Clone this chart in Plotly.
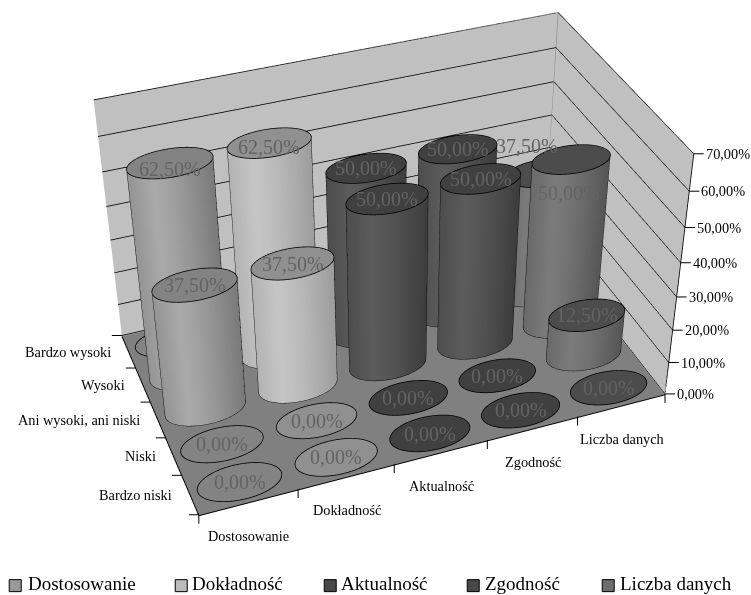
import numpy as np
import plotly.graph_objects as go

SERIES = ["Dostosowanie", "Dokładność", "Aktualność", "Zgodność", "Liczba danych"]
LEVELS = ["Bardzo niski", "Niski", "Ani wysoki, ani niski", "Wysoki", "Bardzo wysoki"]
DOSTOSOWANIE = [0.0, 0.0, 37.5, 62.5, 0.0]
DOKLADNOSC = [0.0, 0.0, 37.5, 62.5, 0.0]
AKTUALNOSC = [0.0, 0.0, 50.0, 50.0, 0.0]
ZGODNOSC = [0.0, 0.0, 50.0, 50.0, 0.0]
LICZBA_DANYCH = [0.0, 12.5, 50.0, 37.5, 0.0]
Z_TICKS = [0, 10, 20, 30, 40, 50, 60, 70]
VALUES = [DOSTOSOWANIE, DOKLADNOSC, AKTUALNOSC, ZGODNOSC, LICZBA_DANYCH]

# Cylinder shading: brightest and darkest side tone, then the cap colour
PEAK = [(170, 170, 170), (198, 198, 198), (92, 92, 92), (92, 92, 92), (124, 124, 124)]
EDGE = [(96, 96, 96), (135, 135, 135), (44, 44, 44), (44, 44, 44), (64, 64, 64)]
TOP = ["#838383", "#909090", "#404040", "#404040", "#4c4c4c"]
LEGEND_FILL = ["#999999", "#bbbbbb", "#484848", "#484848", "#6c6c6c"]

# Camera and box proportions of the 3D scene
ASPECT = np.array([1.5, 0.8931, 0.8807])
EYE = np.array([-1.5636, -4.1377, 3.1427])
CENTER = np.array([-0.9670, -2.5895, 1.8440])
FOCAL = 1795.98
PRINCIPAL_X, PRINCIPAL_Y = 396.78, 335.35

# plotly's perspective has a fixed 45 degree field of view, so a long lens needs a
# large plot area; the div is offset so the chart sits inside the visible window.
FIG_H = int(round(2 * FOCAL * np.tan(np.pi / 8)))
FIG_W = FIG_H
LEFT = PRINCIPAL_X - FIG_W / 2
TOPY = PRINCIPAL_Y - FIG_H / 2


def pap(xp, yp):
    return (xp - LEFT) / FIG_W, 1 - (yp - TOPY) / FIG_H


def screen(x, y, z):
    """Window position of scene points, used to find each cylinder's silhouette."""
    q = np.c_[(np.asarray(x) + .5) / 5, (np.asarray(y) + .5) / 5, (np.asarray(z) - Z0) / (70 - Z0)]
    fw = CENTER - EYE
    fw = fw / np.linalg.norm(fw)
    r = np.cross(fw, [0, 0, 1.0])
    r = r / np.linalg.norm(r)
    u = np.cross(r, fw)
    X = (q - .5) * ASPECT - EYE
    zc = X @ fw
    return np.c_[PRINCIPAL_X + FOCAL * (X @ r) / zc, PRINCIPAL_Y - FOCAL * (X @ u) / zc]


Z0 = -0.3
R = 0.42
SEG = 96
TH = np.linspace(0, 2 * np.pi, SEG + 1)
FLAT = dict(ambient=1, diffuse=0, specular=0, fresnel=0)

fig = go.Figure()
for i, col in enumerate(VALUES):
    for j, v in enumerate(col):
        x = i + R * np.cos(TH)
        y = j + R * np.sin(TH)
        base = screen(x, y, np.zeros(SEG + 1))
        sx = base[:, 0]
        il, ir = int(np.argmin(sx[:-1])), int(np.argmax(sx[:-1]))
        n = SEG + 1
        a = np.arange(n - 1)
        if v > 0:
            s = (sx - (sx[il] + sx[ir]) / 2) / ((sx[ir] - sx[il]) / 2)
            g = np.where(s < -.4, .7 + .3 * (s + 1) / .6, 1 - .65 * (np.clip(s + .4, 0, None) / 1.4) ** 1.3)
            tones = [tuple(int(e + (p - e) * t) for e, p in zip(EDGE[i], PEAK[i])) for t in g]
            cols = [f"rgb{c}" for c in tones]
            fig.add_trace(go.Mesh3d(
                x=np.r_[x, x], y=np.r_[y, y], z=np.r_[np.zeros(n), np.full(n, v)], vertexcolor=cols + cols,
                i=np.r_[a, a], j=np.r_[a + 1, a + 1 + n], k=np.r_[a + 1 + n, a + n],
                lighting=FLAT, hoverinfo="skip", showlegend=False))
        fig.add_trace(go.Mesh3d(
            x=np.r_[x, i], y=np.r_[y, j], z=np.full(n + 1, v), color=TOP[i],
            i=a, j=a + 1, k=np.full(n - 1, n), flatshading=True,
            lighting=FLAT, hoverinfo="skip", showlegend=False))
        lx = list(i + (R + .003) * np.cos(TH))
        ly = list(j + (R + .003) * np.sin(TH))
        lz = [v + .1] * n
        if v > 0:
            for k in (il, ir):
                lx += [None, x[k], x[k]]
                ly += [None, y[k], y[k]]
                lz += [None, 0, v]
            # nearer half of the base ring
            seq = [(il + t) % SEG for t in range((ir - il) % SEG + 1)]
            seq2 = [(ir + t) % SEG for t in range((il - ir) % SEG + 1)]
            front = seq if base[seq, 1].mean() > base[seq2, 1].mean() else seq2
            lx += [None] + list(x[front])
            ly += [None] + list(y[front])
            lz += [None] + [.05] * len(front)
        fig.add_trace(go.Scatter3d(x=lx, y=ly, z=lz, mode="lines", line=dict(color="black", width=1.6),
                                   hoverinfo="skip", showlegend=False))

# Wall outlines and the value axis line
fig.add_trace(go.Scatter3d(
    x=[-.5, -.5, 4.5, 4.5, None, 4.5, 4.5], y=[4.5, 4.5, 4.5, -.5, None, 4.5, 4.5], z=[0, 70, 70, 70, None, 70, 0],
    mode="lines", line=dict(color="#808080", width=1.2), hoverinfo="skip", showlegend=False))
fig.add_trace(go.Scatter3d(x=[4.5, 4.5], y=[-.5, -.5], z=[0, 70], mode="lines", line=dict(color="black", width=1.6),
                           hoverinfo="skip", showlegend=False))

LABEL_FONT = dict(family="Liberation Serif", size=20, color="#636363")
AXIS_FONT = dict(family="Liberation Serif", size=14.3, color="black")
# Labels that sit off their cap to stay readable: (series, level) -> pixel offset
LABEL_OFFSET = {(4, 2): (-2, -33), (4, 3): (-17, 27), (0, 3): (0, -6), (1, 3): (0, -4)}
ann = []
for i, col in enumerate(VALUES):
    for j, v in enumerate(col):
        # zero labels of the back row stay hidden behind the cylinders
        if v == 0 and j == len(col) - 1:
            continue
        dx, dy = LABEL_OFFSET.get((i, j), (0, 0))
        ann.append(dict(x=i, y=j, z=v, text=f"{v:.2f}%".replace(".", ","), showarrow=False, xshift=dx, yshift=dy,
                        font=LABEL_FONT))
TICK_STYLE = dict(showarrow=True, arrowhead=0, arrowwidth=1, arrowcolor="black")
for t in Z_TICKS:
    ann.append(dict(x=4.5, y=-.5, z=t, text=f"{t:.2f}%".replace(".", ","), ax=10, ay=0, xanchor="left", font=AXIS_FONT,
                    **TICK_STYLE))
TICK_POS = [k - .5 for k in range(len(SERIES) + 1)]
for p in TICK_POS:
    ann.append(dict(x=p, y=-.5, z=0, text=" ", ax=0, ay=9, yanchor="top", font=AXIS_FONT, **TICK_STYLE))
    ann.append(dict(x=-.5, y=p, z=0, text=" ", ax=-10, ay=0, xanchor="right", font=AXIS_FONT, **TICK_STYLE))
for i, s in enumerate(SERIES):
    ann.append(dict(x=i, y=-.5, z=0, text=s, showarrow=False, yshift=-34, font=AXIS_FONT))
for j, s in enumerate(LEVELS):
    ann.append(dict(x=-.5, y=j, z=0, text=s, showarrow=False, xanchor="right", xshift=-16, yshift=0, font=AXIS_FONT))

# Legend row along the bottom of the window
BOX_X = [9, 175, 324, 467, 602]
TEXT_X = [26, 190, 339, 483, 618]
ROW_Y = 585
paper_ann, shapes = [], []
for s, fill, bx, tx in zip(SERIES, LEGEND_FILL, BOX_X, TEXT_X):
    a, b = pap(tx, ROW_Y - 1)
    paper_ann.append(dict(xref="paper", yref="paper", x=a, y=b, text=s, showarrow=False, xanchor="left", yanchor="middle",
                          font=dict(family="Liberation Serif", size=19, color="black")))
    a0, b0 = pap(bx, ROW_Y + 7)
    a1, b1 = pap(bx + 12, ROW_Y - 5)
    shapes.append(dict(type="rect", xref="paper", yref="paper", x0=a0, x1=a1, y0=b0, y1=b1, fillcolor=fill,
                       line=dict(color="black", width=1)))

base_axis = dict(range=[-.5, 4.5], showgrid=False, zeroline=False, backgroundcolor="#c0c0c0", showbackground=True,
                 ticks="", tickvals=TICK_POS, showticklabels=False, title="",
                 showline=True, linecolor="black", linewidth=2, showspikes=False)
fig.update_layout(
    width=FIG_W, height=FIG_H, margin=dict(l=0, r=0, t=0, b=0), showlegend=False, paper_bgcolor="white",
    annotations=paper_ann, shapes=shapes,
    scene=dict(
        domain=dict(x=[0, 1], y=[0, 1]),
        aspectmode="manual", aspectratio=dict(x=ASPECT[0], y=ASPECT[1], z=ASPECT[2]),
        camera=dict(eye=dict(x=EYE[0], y=EYE[1], z=EYE[2]), center=dict(x=CENTER[0], y=CENTER[1], z=CENTER[2]),
                    up=dict(x=0, y=0, z=1), projection=dict(type="perspective")),
        xaxis=base_axis, yaxis=base_axis,
        zaxis=dict(range=[Z0, 70], gridcolor="black", gridwidth=1.6, zeroline=False, backgroundcolor="#808080",
                   showbackground=True, ticks="", tickvals=Z_TICKS, showticklabels=False, title="", showline=False,
                   showspikes=False),
        annotations=ann,
    ),
)
post = f"""var gd=document.getElementById('{{plot_id}}');
document.documentElement.style.overflow='hidden';document.body.style.overflow='hidden';
gd.style.position='absolute';gd.style.left='{LEFT:.1f}px';gd.style.top='{TOPY:.1f}px';"""
fig.write_html("out.html", post_script=post)
